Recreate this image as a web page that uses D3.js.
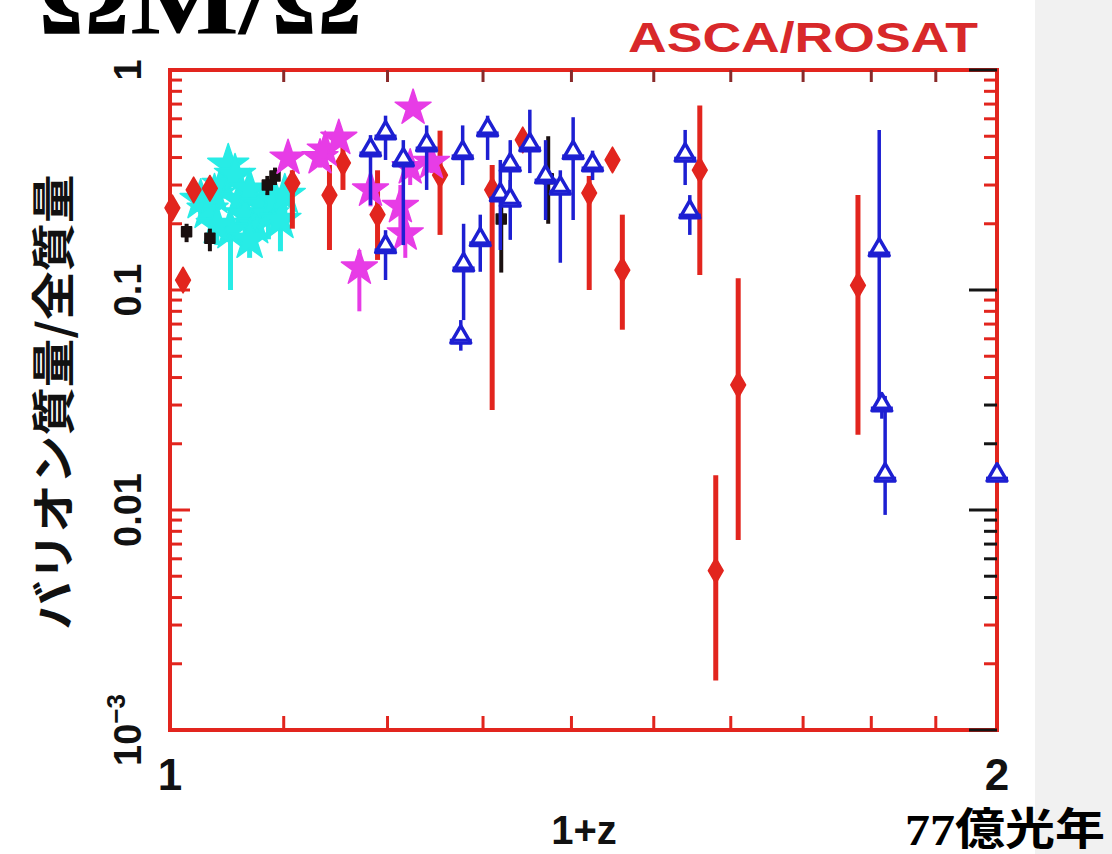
<!DOCTYPE html>
<html>
<head>
<meta charset="utf-8">
<script src="https://cdn.jsdelivr.net/npm/d3@7"></script>
<style>
  html, body { margin: 0; padding: 0; background: #ffffff; }
  svg { display: block; }
</style>
</head>
<body>
<script>
// Baryon mass fraction vs. (1+z) for ASCA/ROSAT clusters

// Red filled points
const redX  = [1.002, 1.011, 1.020, 1.034, 1.108, 1.143, 1.156, 1.190, 1.254, 1.310, 1.344, 1.421, 1.449, 1.461, 1.559, 1.580, 1.610, 1.780];
const redY  = [0.236, 0.111, 0.285, 0.290, 0.306, 0.270, 0.378, 0.220, 0.333, 0.285, 0.481, 0.276, 0.390, 0.123, 0.351, 0.0053, 0.037, 0.105];
const redHi = [0.260, 0.120, 0.310, 0.310, 0.350, 0.370, 0.480, 0.350, 0.530, 0.370, 0.520, 0.330, 0.420, 0.220, 0.690, 0.0144, 0.113, 0.270];
const redLo = [0.215, 0.100, 0.260, 0.270, 0.190, 0.152, 0.285, 0.137, 0.178, 0.0285, 0.440, 0.100, 0.350, 0.066, 0.117, 0.00168, 0.0073, 0.022];

// Dark (black) points
const darkX  = [1.014, 1.034, 1.085, 1.092, 1.320, 1.373];
const darkY  = [0.184, 0.172, 0.300, 0.330, 0.210, 0.320];
const darkHi = [0.200, 0.190, 0.330, 0.360, 0.250, 0.500];
const darkLo = [0.165, 0.150, 0.270, 0.300, 0.120, 0.200];

// Blue open triangles
const blueX  = [1.183, 1.198, 1.198, 1.216, 1.240, 1.278, 1.279, 1.276, 1.305, 1.297, 1.319, 1.330, 1.330, 1.352, 1.370, 1.387, 1.402, 1.425, 1.540, 1.546, 1.812, 1.816, 1.821, 2.000];
const blueY  = [0.433, 0.517, 0.157, 0.390, 0.456, 0.420, 0.130, 0.061, 0.534, 0.169, 0.270, 0.370, 0.256, 0.456, 0.326, 0.290, 0.420, 0.370, 0.410, 0.226, 0.152, 0.030, 0.0144, 0.0144];
const blueHi = [0.506, 0.620, 0.187, 0.480, 0.560, 0.560, 0.200, 0.073, 0.620, 0.220, 0.390, 0.480, 0.316, 0.660, 0.480, 0.350, 0.610, 0.430, 0.534, 0.270, 0.534, 0.033, 0.033, 0.0144];
const blueLo = [0.243, 0.390, 0.111, 0.160, 0.285, 0.300, 0.073, 0.053, 0.390, 0.121, 0.152, 0.256, 0.169, 0.340, 0.208, 0.133, 0.208, 0.316, 0.300, 0.178, 0.0316, 0.026, 0.0095, 0.0144];

// Magenta stars
const magX  = [1.104, 1.134, 1.139, 1.152, 1.172, 1.183, 1.213, 1.218, 1.223, 1.226, 1.245];
const magY  = [0.398, 0.400, 0.433, 0.490, 0.126, 0.285, 0.240, 0.180, 0.360, 0.672, 0.380];
const magHi = [0.420, 0.440, 0.470, 0.520, 0.152, 0.330, 0.300, 0.210, 0.400, 0.700, 0.420];
const magLo = [0.370, 0.360, 0.400, 0.450, 0.080, 0.240, 0.170, 0.140, 0.300, 0.620, 0.340];

// Cyan stars
const cyanX  = [1.026, 1.032, 1.038, 1.045, 1.050, 1.056, 1.060, 1.065, 1.069, 1.074, 1.080, 1.086, 1.092, 1.097, 1.101, 1.052, 1.040, 1.069];
const cyanY  = [0.256, 0.231, 0.270, 0.300, 0.370, 0.333, 0.256, 0.220, 0.285, 0.197, 0.243, 0.220, 0.256, 0.208, 0.270, 0.187, 0.197, 0.169];
const cyanHi = [0.280, 0.250, 0.300, 0.330, 0.400, 0.360, 0.280, 0.240, 0.310, 0.220, 0.270, 0.240, 0.280, 0.230, 0.300, 0.210, 0.220, 0.190];
const cyanLo = [0.220, 0.200, 0.230, 0.260, 0.320, 0.290, 0.200, 0.180, 0.240, 0.160, 0.200, 0.170, 0.200, 0.150, 0.220, 0.100, 0.160, 0.140];

// Axis labels
const xTickLabels = [[1, "1"], [2, "2"]];
const yTickLabels = [[1, "1"], [0.1, "0.1"], [0.01, "0.01"]];

const W = 1112, H = 854;
const svg = d3.select("body").append("svg").attr("width", W).attr("height", H)
  .style("font-family", "'Liberation Sans', Arial, sans-serif");

svg.append("rect").attr("width", W).attr("height", H).attr("fill", "#ffffff");
svg.append("rect").attr("x", 1035).attr("y", 0).attr("width", W - 1035).attr("height", H).attr("fill", "#f1f1f1");

const x = d3.scaleLog().domain([1, 2]).range([170, 997]);
const y = d3.scaleLog().domain([1e-3, 1]).range([730, 70]);

const RED = "#e2251e", BLUE = "#1d1fd2", MAG = "#e73ce6", CYAN = "#27ece6", DARK = "#1a1010";

// frame
svg.append("rect")
  .attr("x", x(1)).attr("y", y(1))
  .attr("width", x(2) - x(1)).attr("height", y(1e-3) - y(1))
  .attr("fill", "none").attr("stroke", RED).attr("stroke-width", 4);

// y ticks, left and right
const yTicks = y.ticks();
const isMajor = v => Math.abs(Math.log10(v) - Math.round(Math.log10(v))) < 1e-9;
const tickG = svg.append("g");
yTicks.forEach(v => {
  const py = y(v);
  const maj = isMajor(v);
  tickG.append("line").attr("x1", x(1)).attr("x2", x(1) + (maj ? 20 : 12))
    .attr("y1", py).attr("y2", py).attr("stroke", RED).attr("stroke-width", 3);
  const black = maj || (v < 0.04 && v > 0.003);
  tickG.append("line").attr("x1", x(2)).attr("x2", x(2) - (maj ? 28 : 13))
    .attr("y1", py).attr("y2", py).attr("stroke", black ? "#151515" : RED).attr("stroke-width", 3);
});

// x ticks, top and bottom
const xMinor = d3.range(1.1, 1.95, 0.1);
xMinor.forEach(v => {
  const px = x(v);
  tickG.append("line").attr("x1", px).attr("x2", px).attr("y1", y(1)).attr("y2", y(1) + 12)
    .attr("stroke", "#8a2a2a").attr("stroke-width", 3);
  tickG.append("line").attr("x1", px).attr("x2", px).attr("y1", y(1e-3)).attr("y2", y(1e-3) - 14)
    .attr("stroke", RED).attr("stroke-width", 3);
});

// error bars + symbols
function series(xs, ys, hi, lo, opts) {
  const g = svg.append("g");
  xs.forEach((xv, i) => {
    if (hi[i] !== lo[i]) {
      g.append("line").attr("x1", x(xv)).attr("x2", x(xv))
        .attr("y1", y(hi[i])).attr("y2", y(lo[i]))
        .attr("stroke", opts.bar || opts.color).attr("stroke-width", opts.barWidth);
    }
  });
  const sym = d3.symbol().type(opts.type).size(opts.size);
  xs.forEach((xv, i) => {
    g.append("path").attr("d", sym())
      .attr("transform", `translate(${x(xv)},${y(ys[i])})`)
      .attr("fill", opts.open ? "#ffffff" : opts.color)
      .attr("stroke", opts.color).attr("stroke-width", opts.open ? 3.5 : 1.5)
      .attr("stroke-linejoin", "round");
    if (opts.cross) {
      g.append("line").attr("x1", x(xv) - 11).attr("x2", x(xv) + 11)
        .attr("y1", y(ys[i]) + 3).attr("y2", y(ys[i]) + 3)
        .attr("stroke", opts.color).attr("stroke-width", 3);
    }
  });
}

series(cyanX, cyanY, cyanHi, cyanLo, { color: CYAN, type: d3.symbolStar, size: 520, barWidth: 5 });
series(darkX, darkY, darkHi, darkLo, { color: DARK, type: d3.symbolSquare, size: 100, barWidth: 4 });
series(redX, redY, redHi, redLo, { color: RED, type: d3.symbolDiamond, size: 190, barWidth: 5 });
series(magX, magY, magHi, magLo, { color: MAG, type: d3.symbolStar, size: 400, barWidth: 4 });
series(blueX, blueY, blueHi, blueLo, { color: BLUE, type: d3.symbolTriangle, size: 170, barWidth: 3.5, open: true, cross: true });

// tick labels
const lab = svg.append("g").attr("font-weight", "bold").attr("fill", "#111");
xTickLabels.forEach(([v, t]) => {
  lab.append("text").attr("x", x(v)).attr("y", 790).attr("text-anchor", "middle")
    .attr("font-size", 44).text(t);
});
yTickLabels.forEach(([v, t]) => {
  lab.append("text").attr("transform", `translate(141,${y(v)}) rotate(-90)`)
    .attr("text-anchor", "middle").attr("font-size", 38).text(t);
});
const t3 = lab.append("text").attr("transform", `translate(141,${y(1e-3)}) rotate(-90)`)
  .attr("text-anchor", "middle").attr("font-size", 38);
t3.append("tspan").text("10");
t3.append("tspan").attr("dy", -16).attr("font-size", 26).text("\u22123");

// axis titles
lab.append("text").attr("x", 584).attr("y", 844).attr("text-anchor", "middle")
  .attr("font-size", 40).text("1+z");
svg.append("text").attr("transform", `translate(70,${(y(1) + y(1e-3)) / 2 + 2}) rotate(-90)`)
  .attr("text-anchor", "middle").attr("font-size", 44).attr("font-weight", "bold")
  .attr("font-family", "'Noto Sans CJK JP', sans-serif").attr("fill", "#111")
  .attr("textLength", 455).attr("lengthAdjust", "spacingAndGlyphs")
  .text("バリオン質量/全質量");

// instrument label
svg.append("text").attr("x", 628).attr("y", 52).attr("font-size", 42).attr("font-weight", "bold")
  .attr("fill", "#d8282a").attr("textLength", 350).attr("lengthAdjust", "spacingAndGlyphs")
  .text("ASCA/ROSAT");

// large heading at top, partly above the page edge
svg.append("text").attr("x", 38).attr("y", 33).attr("font-size", 100).attr("font-weight", "bold")
  .attr("font-family", "'Liberation Serif', 'Times New Roman', serif").attr("fill", "#000")
  .attr("textLength", 325).attr("lengthAdjust", "spacingAndGlyphs")
  .text("ΩM/Ω");

// distance note
svg.append("text").attr("x", 905).attr("y", 845).attr("font-size", 44).attr("font-weight", "bold")
  .attr("font-family", "'Liberation Serif', 'Noto Sans CJK JP', serif").attr("fill", "#000")
  .attr("textLength", 200).attr("lengthAdjust", "spacingAndGlyphs")
  .text("77億光年");
</script>
</body>
</html>
